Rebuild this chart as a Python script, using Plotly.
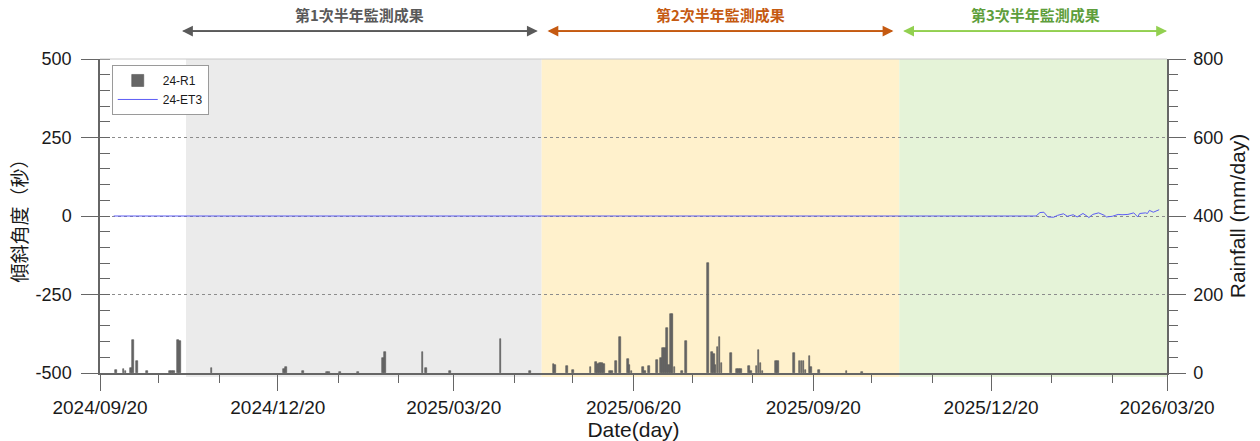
import plotly.graph_objects as go
import pandas as pd

# ---------------- data ----------------
rain_dates = [
    "2024-09-28", "2024-10-02", "2024-10-03", "2024-10-06", "2024-10-07", "2024-10-09",
    "2024-10-14", "2024-10-26", "2024-10-27", "2024-10-28", "2024-10-30", "2024-10-31",
    "2024-11-16", "2024-12-23", "2024-12-24", "2025-01-02", "2025-01-14", "2025-01-15",
    "2025-01-21", "2025-01-30", "2025-02-12", "2025-02-13", "2025-03-04", "2025-03-06",
    "2025-03-18", "2025-04-13", "2025-04-28",
    "2025-05-10", "2025-05-11", "2025-05-17", "2025-05-20", "2025-05-29", "2025-06-01",
    "2025-06-02", "2025-06-03", "2025-06-04", "2025-06-05", "2025-06-08", "2025-06-09",
    "2025-06-11", "2025-06-13", "2025-06-17", "2025-06-18", "2025-06-19", "2025-06-25",
    "2025-06-26", "2025-06-28", "2025-07-02", "2025-07-04", "2025-07-05", "2025-07-06",
    "2025-07-07", "2025-07-08", "2025-07-09", "2025-07-10", "2025-07-11", "2025-07-15",
    "2025-07-17", "2025-07-28", "2025-07-30", "2025-07-31", "2025-08-01", "2025-08-02",
    "2025-08-03", "2025-08-04", "2025-08-09", "2025-08-12", "2025-08-13", "2025-08-14",
    "2025-08-18", "2025-08-19", "2025-08-22", "2025-08-23", "2025-08-24", "2025-08-25",
    "2025-09-01", "2025-09-02", "2025-09-10", "2025-09-13", "2025-09-14", "2025-09-15",
    "2025-09-16", "2025-09-18", "2025-09-19", "2025-09-23", "2025-10-07", "2025-10-15",
]
rain_mm = [
    8, 10, 6, 12, 84, 31,
    5, 5, 4, 4, 84, 82,
    12, 10, 15, 5, 3, 3,
    2, 2, 38, 54, 54, 12,
    5, 86, 4,
    23, 20, 18, 8, 15, 28,
    22, 25, 25, 24, 5, 5,
    31, 92, 36, 20, 6, 15,
    6, 18, 33, 38, 64, 64,
    115, 20, 150, 150, 15, 5,
    82, 280, 54, 48, 20, 66,
    92, 25, 51, 10, 10, 10,
    18, 6, 18, 59, 25, 6,
    31, 31, 51, 31, 31, 31,
    8, 43, 15, 8, 5, 3,
]

tilt_dates = [
    "2024-09-27", "2026-01-12", "2026-01-14", "2026-01-16", "2026-01-18", "2026-01-21",
    "2026-01-23", "2026-01-26", "2026-01-28", "2026-01-31", "2026-02-02", "2026-02-05",
    "2026-02-07", "2026-02-08", "2026-02-10", "2026-02-13", "2026-02-16", "2026-02-17",
    "2026-02-20", "2026-02-23", "2026-02-25", "2026-02-28", "2026-03-03", "2026-03-05",
    "2026-03-06", "2026-03-09", "2026-03-10", "2026-03-11", "2026-03-13", "2026-03-16",
]
tilt_sec = [
    0, 0, 11, 12, -3, -4,
    2, 7, -1, 4, -3, 8,
    0, -5, 5, 10, 2, -3,
    -1, 5, 4, 5, 10, -3,
    8, 10, 8, 18, 12, 20,
]

x_tick_vals = ["2024-09-20", "2024-12-20", "2025-03-20", "2025-06-20",
               "2025-09-20", "2025-12-20", "2026-03-20"]
x_tick_text = ["2024/09/20", "2024/12/20", "2025/03/20", "2025/06/20",
               "2025/09/20", "2025/12/20", "2026/03/20"]
x_minor_vals = ["2024-10-20", "2024-11-20", "2025-01-20", "2025-02-20", "2025-04-20",
                "2025-05-20", "2025-07-20", "2025-08-20", "2025-10-20", "2025-11-20",
                "2026-01-20", "2026-02-20"]
y_tick_vals = [-500, -250, 0, 250, 500]
y_tick_text = ["-500", "-250", "0", "250", "500"]

period_labels = ["第1次半年監測成果", "第2次半年監測成果", "第3次半年監測成果"]
period_bounds = [("2024-11-03", "2025-05-04"), ("2025-05-04", "2025-11-03"),
                 ("2025-11-03", "2026-03-20")]
period_arrows = [("2024-11-01", "2025-05-02"), ("2025-05-07", "2025-10-31"),
                 ("2025-11-05", "2026-03-20")]
period_fill = ["#EBEBEB", "#FFF1CC", "#E5F3D8"]
period_line = ["#5A5A5A", "#C55A11", "#92D050"]
period_text = ["#595959", "#C55A11", "#5E9E3C"]

# ---------------- figure ----------------
fig = go.Figure()

fig.add_trace(go.Bar(
    x=rain_dates, y=rain_mm, name="24-R1", yaxis="y2",
    marker=dict(color="#666666", line=dict(color="#555555", width=0.6)),
    width=86400000 * 0.9,
))
fig.add_trace(go.Scatter(
    x=tilt_dates, y=tilt_sec, name="24-ET3", mode="lines",
    line=dict(color="#5C5CF5", width=1),
))

shapes = []
annotations = []
for (s, e), fill in zip(period_bounds, period_fill):
    shapes.append(dict(type="rect", xref="x", yref="paper", x0=s, x1=e,
                       y0=-0.013, y1=1.0, fillcolor=fill, line=dict(width=0),
                       layer="below"))
shapes.append(dict(type="line", xref="paper", yref="paper", x0=0, x1=1, y0=1, y1=1,
                   line=dict(color="#C8C8C8", width=1), layer="above"))

arrow_y = 1.089
for lab, (a0, a1), lc, tc in zip(period_labels, period_arrows, period_line, period_text):
    for p, q in ((a1, a0), (a0, a1)):
        annotations.append(dict(x=p, y=arrow_y, xref="x", yref="paper", ax=q, ay=0,
                                axref="x", ayref="pixel", showarrow=True, arrowhead=2,
                                arrowsize=1.2, arrowwidth=1.8, arrowcolor=lc, text=""))
    mid = pd.Timestamp(a0) + (pd.Timestamp(a1) - pd.Timestamp(a0)) / 2
    annotations.append(dict(x=mid.strftime("%Y-%m-%d %H:%M"), y=1.143, xref="x", yref="paper",
                            xanchor="center", yanchor="middle",
                            showarrow=False, text="<b>" + lab + "</b>",
                            font=dict(family="Noto Sans CJK TC", size=15, color=tc)))

latin = "Liberation Sans, Arial"
ink = "#1A1A1A"

fig.update_layout(
    width=1260, height=441,
    margin=dict(l=100, r=93, t=59, b=68, autoexpand=False),
    paper_bgcolor="white", plot_bgcolor="white",
    bargap=0,
    shapes=shapes, annotations=annotations,
    showlegend=True,
    legend=dict(x=0.011, y=0.981, xanchor="left", yanchor="top",
                bgcolor="white", bordercolor="#9A9A9A", borderwidth=1,
                font=dict(family=latin, size=12, color=ink),
                tracegroupgap=0, itemwidth=40),
    xaxis=dict(
        type="date", range=["2024-09-20", "2026-03-20"],
        tickvals=x_tick_vals, ticktext=x_tick_text,
        ticks="outside", ticklen=16, tickcolor="#666666", tickwidth=1.2,
        minor=dict(tickvals=x_minor_vals, ticks="outside", ticklen=8,
                   tickcolor="#666666", showgrid=False),
        showline=True, linecolor="#666666", linewidth=1.5,
        showgrid=False, zeroline=False,
        tickfont=dict(family=latin, size=19, color=ink),
        title=dict(text="Date(day)", standoff=4,
                   font=dict(family=latin, size=21, color=ink)),
    ),
    yaxis=dict(
        range=[-500, 500], tickvals=y_tick_vals, ticktext=y_tick_text,
        ticks="outside", ticklen=17, tickcolor="#666666", tickwidth=1.2,
        ticklabelstandoff=6,
        minor=dict(dtick=50, ticks="inside", ticklen=10, tickcolor="#666666", showgrid=False),
        showline=True, linecolor="#666666", linewidth=1.5,
        showgrid=True, gridcolor="#8C8C8C", griddash="dot", gridwidth=1,
        zeroline=False, tickfont=dict(family=latin, size=18, color=ink),
        title=dict(text="傾斜角度（秒）", standoff=3,
                   font=dict(family="Noto Sans CJK TC", size=19, color=ink)),
    ),
    yaxis2=dict(
        overlaying="y", side="right", range=[0, 800], dtick=200,
        ticks="outside", ticklen=17, tickcolor="#666666", tickwidth=1.2,
        ticklabelstandoff=4,
        minor=dict(dtick=40, ticks="outside", ticklen=9, tickcolor="#666666", showgrid=False),
        showline=True, linecolor="#666666", linewidth=1.5,
        showgrid=False, zeroline=False, tickfont=dict(family=latin, size=18, color=ink),
        title=dict(text="Rainfall (mm/day)", standoff=8,
                   font=dict(family=latin, size=21, color=ink)),
    ),
)

fig.write_html("out.html",
               config={"displayModeBar": False},
               post_script="document.body.style.margin='0';document.body.style.padding='0';")
